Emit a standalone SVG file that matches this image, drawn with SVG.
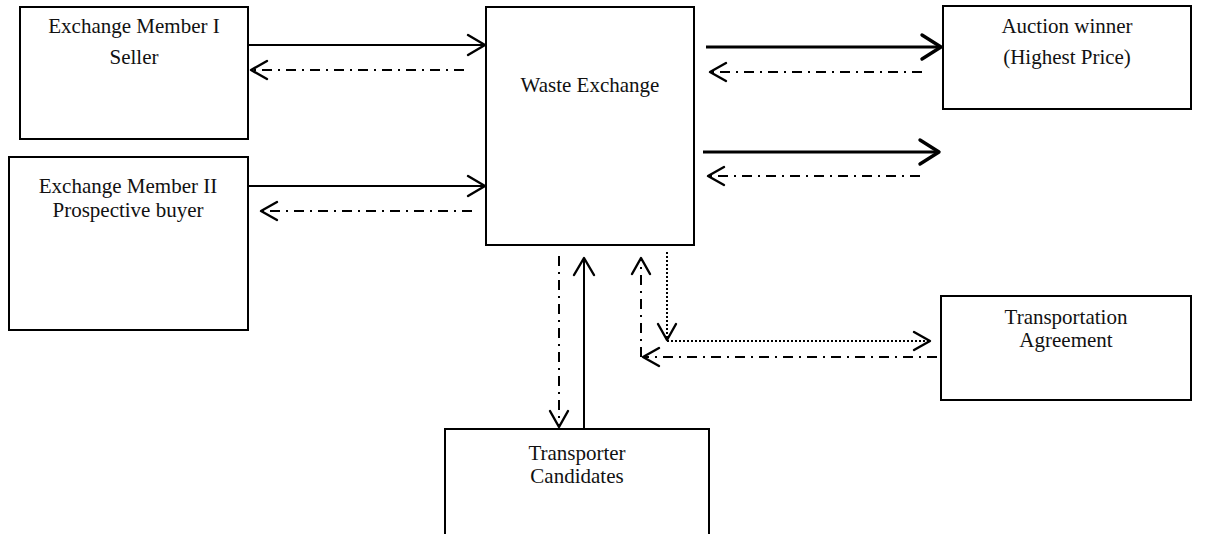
<svg xmlns="http://www.w3.org/2000/svg" width="1211" height="534" viewBox="0 0 1211 534">
<style>
.box{fill:#fff;stroke:#000;stroke-width:2}
.t{font-family:"Liberation Serif","Times New Roman",serif;font-size:21px;fill:#111;text-anchor:middle}
.solid{fill:none;stroke:#000;stroke-width:2}
.thick{fill:none;stroke:#000;stroke-width:3.2}
.dd{fill:none;stroke:#000;stroke-width:2;stroke-dasharray:10 6 2 6}
.dot{fill:none;stroke:#000;stroke-width:2;stroke-dasharray:2 2}
</style>
<defs>
<marker id="h" markerUnits="userSpaceOnUse" markerWidth="40" markerHeight="40" refX="0" refY="0" orient="auto" overflow="visible"><path d="M-17,-10 L0,0 L-17,10" fill="none" stroke="#000" stroke-width="2.4" stroke-linejoin="round" stroke-linecap="round"/></marker>
<marker id="hk" markerUnits="userSpaceOnUse" markerWidth="40" markerHeight="40" refX="0" refY="0" orient="auto" overflow="visible"><path d="M-19,-12 L0,0 L-19,12" fill="none" stroke="#000" stroke-width="3.4" stroke-linejoin="round" stroke-linecap="round"/></marker>
<marker id="hd" markerUnits="userSpaceOnUse" markerWidth="40" markerHeight="40" refX="0" refY="0" orient="auto" overflow="visible"><path d="M-16,-9 L0,0 L-16,9" fill="none" stroke="#000" stroke-width="2.4" stroke-linejoin="round" stroke-linecap="round"/></marker>
</defs>
<g id="seller"><rect class="box" x="20" y="7" width="228" height="132"/><text class="t" x="134" y="33">Exchange Member I</text><text class="t" x="134" y="64">Seller</text></g>
<g id="buyer"><rect class="box" x="9" y="157" width="239" height="173"/><text class="t" x="128" y="193">Exchange Member II</text><text class="t" x="128" y="217">Prospective buyer</text></g>
<g id="exchange"><rect class="box" x="486" y="7" width="208" height="238"/><text class="t" x="590" y="92">Waste Exchange</text></g>
<g id="winner"><rect class="box" x="943" y="6" width="248" height="103"/><text class="t" x="1067" y="33">Auction winner</text><text class="t" x="1067" y="64">(Highest Price)</text></g>
<g id="agreement"><rect class="box" x="941" y="296" width="250" height="104"/><text class="t" x="1066" y="324">Transportation</text><text class="t" x="1066" y="347">Agreement</text></g>
<g id="candidates"><rect class="box" x="445" y="429" width="264" height="110"/><text class="t" x="577" y="460">Transporter</text><text class="t" x="577" y="483">Candidates</text></g>
<g id="connectors">
<line class="solid" x1="248" y1="45" x2="485" y2="45" marker-end="url(#h)"/>
<line class="dd" x1="464" y1="70" x2="251" y2="70" marker-end="url(#hd)"/>
<line class="thick" x1="706" y1="47" x2="941" y2="47" marker-end="url(#hk)"/>
<line class="dd" x1="922" y1="72" x2="710" y2="72" marker-end="url(#hd)"/>
<line class="thick" x1="703" y1="152" x2="939" y2="152" marker-end="url(#hk)"/>
<line class="dd" x1="920" y1="176" x2="708" y2="176" marker-end="url(#hd)"/>
<line class="solid" x1="248" y1="186" x2="485" y2="186" marker-end="url(#h)"/>
<line class="dd" x1="472" y1="211" x2="261" y2="211" marker-end="url(#hd)"/>
<line class="dd" x1="559" y1="256" x2="559" y2="427" marker-end="url(#hd)"/>
<line class="solid" x1="584" y1="428" x2="584" y2="258" marker-end="url(#h)"/>
<line class="dd" x1="641" y1="357" x2="641" y2="258" marker-end="url(#hd)"/>
<line class="dd" x1="937" y1="357" x2="643" y2="357" marker-end="url(#hd)"/>
<line class="dot" x1="667" y1="252" x2="667" y2="340" marker-end="url(#hd)"/>
<line class="dot" x1="667" y1="341" x2="930" y2="341" marker-end="url(#hd)"/>
</g>
</svg>
